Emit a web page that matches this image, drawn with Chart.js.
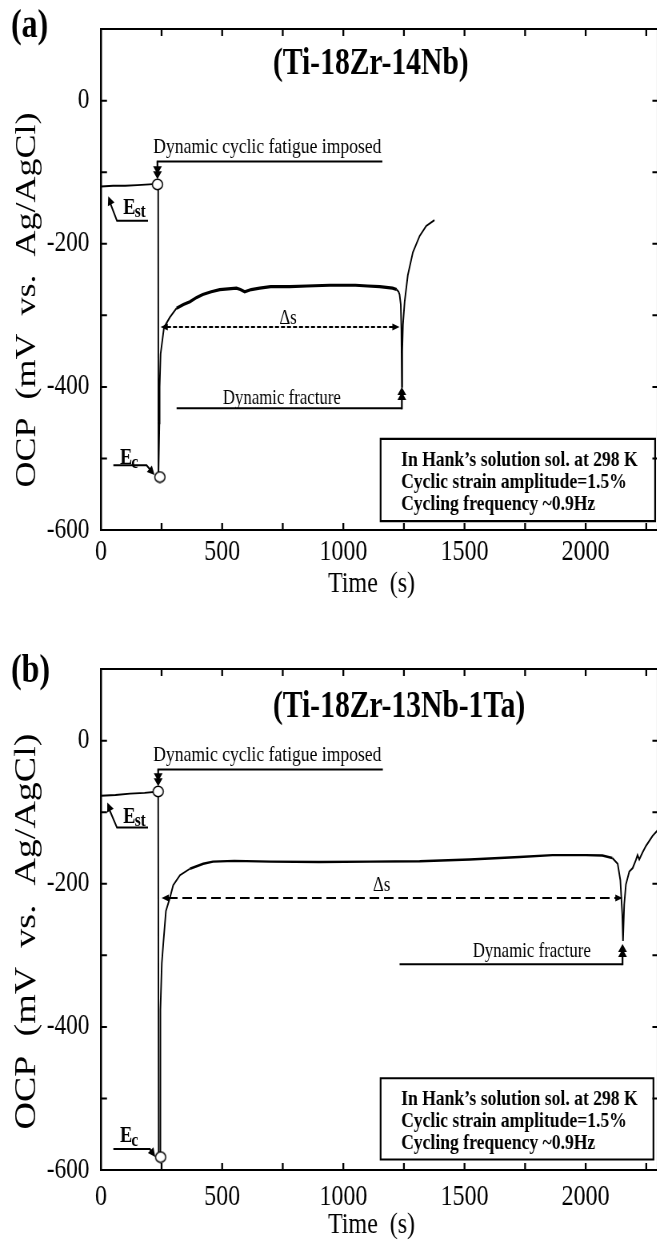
<!DOCTYPE html>
<html>
<head>
<meta charset="utf-8">
<script src="https://cdn.jsdelivr.net/npm/chart.js@4.4.1/dist/chart.umd.min.js"></script>
<style>
html,body{margin:0;padding:0;background:#fff;}
body{width:657px;height:1241px;overflow:hidden;position:relative;}
.panel{position:absolute;left:0;width:830px;height:640px;transform:scaleX(0.8);transform-origin:0 0;}
#pa{top:0;}
#pb{top:640px;}
canvas{display:block;}
</style>
</head>
<body>
<div class="panel" id="pa"><canvas id="ca" width="830" height="640"></canvas></div>
<div class="panel" id="pb"><canvas id="cb" width="830" height="640"></canvas></div>
<script>
// ---------- data (time in s, OCP in mV vs Ag/AgCl) ----------
const timeA = [0,50,100,150,200,236,237,240,241,242,246,260,284,312,340,367,395,420,455,490,525,559,575,593,620,655,700,779,850,944,1000,1050,1100,1150,1203,1220,1228,1232,1237,1239.5,1241.5,1243,1246,1253,1266,1287,1315,1342,1376];
const ocpA  = [-120,-119,-119,-118,-117,-116,-526,-526,-451,-400,-354,-317,-303,-290,-285,-281,-275,-271,-267,-264,-263,-262,-264,-267,-264,-262,-260,-260,-259,-258,-258,-258,-259,-260,-262,-264,-267,-271,-285,-320,-400,-350,-313,-281,-244,-212,-189,-175,-167];
const circleTimeA = [233, 243];
const circleOcpA  = [-117, -526];

const timeB = [0,60,120,180,236,238,244,244.5,246,251,257,268,284,298,326,367,422,462,550,700,900,1110,1315,1521,1727,1863,2000,2069,2110,2132,2143,2151,2154,2159,2166,2173,2180,2194,2207,2214,2221,2235,2249,2276,2300];
const ocpB  = [-77,-76,-74,-73,-71,-582,-582,-513,-376,-311,-284,-238,-220,-202,-188,-179,-172,-169,-168,-169,-169.5,-169,-168.5,-166,-162.5,-160,-160,-160.5,-164,-172,-195,-243,-280,-229,-201,-192,-183,-178,-167,-160,-166,-156,-147,-133,-124];
const circleTimeB = [236, 246];
const circleOcpB  = [-71, -582];

const xTickValues = [0,250,500,750,1000,1250,1500,1750,2000,2250];
const yTickValues = [-600,-500,-400,-300,-200,-100,0,100];
const xLabelStep = 500;
const yLabelStep = 200;
const xMin = 0, xMax = 2300, yMin = -600, yMax = 100;

const yTitle = 'OCP  (mV  vs.  Ag/AgCl)';
const xTitle = 'Time  (s)';
const boxLines = ['In Hank\u2019s solution sol. at 298 K', 'Cyclic strain amplitude=1.5%', 'Cycling frequency ~0.9Hz'];
const fatigueText = 'Dynamic cyclic fatigue imposed';
const fractureText = 'Dynamic fracture';
const deltaText = '\u0394s';

// ---------- panel settings ----------
const SERIF = '"Liberation Serif", "Times New Roman", serif';

const panelA = {
  time: timeA, ocp: ocpA, circT: circleTimeA, circV: circleOcpA,
  lw: 1.9, plateauLw: 3.2, plateau: [300, 1226],
  xTickPad: 7.5,
  panelLabel: '(a)', labelX: 13.75, labelY: 37, labelSize: 40,
  alloy: '(Ti-18Zr-14Nb)', alloyX: 341.25, alloyY: 73.5,
  yTitleX: 43.75, yTitleY: 300, yTitleSize: 36,
  xTitleX: 464.4, xTitleY: 591.7,
  fatigue: {t0: 233, t1: 1161, v: -85, tipV: -110, textT: 215.5, gap: 8.5},
  fracture: {t0: 312, t1: 1241.5, v: -430, tipV: -400, textT: 502.7, gap: 4},
  delta: {t0: 246, t1: 1232, v: -316.4, labelT: 772, labelV: -304.8, dash: [5, 2.5]},
  est: {t0: 66, t1: 194, v: -168, tipT: 30, tipV: -133.5, textT: 92, textV: -158.3},
  ec: {t0: 51, t1: 188, v: -509.5, tipT: 221, tipV: -523, textT: 78, textV: -508.2},
  box: {t0: 1153.8, t1: 2286.5, vTop: -472.7, vBot: -587.6, textT: 1238.6, base: [27.3, 49.5, 71.5]}
};
const panelB = {
  time: timeB, ocp: ocpB, circT: circleTimeB, circV: circleOcpB,
  lw: 1.9, plateauLw: 2.4, plateau: [330, 2125],
  xTickPad: 12.5,
  panelLabel: '(b)', labelX: 13.75, labelY: 42, labelSize: 40,
  alloy: '(Ti-18Zr-13Nb-1Ta)', alloyX: 341.25, alloyY: 76.5,
  yTitleX: 43.75, yTitleY: 291.5, yTitleSize: 38,
  xTitleX: 464.4, xTitleY: 593.3,
  fatigue: {t0: 236, t1: 1163, v: -40.4, tipV: -63.8, textT: 215.5, gap: 9},
  fracture: {t0: 1232, t1: 2152, v: -312.4, tipV: -284, textT: 1534, gap: 7},
  delta: {t0: 250, t1: 2152, v: -219.8, labelT: 1158, labelV: -202.3, dash: [12, 6]},
  est: {t0: 66, t1: 194, v: -121.5, tipT: 26, tipV: -86.5, textT: 92, textV: -114.7},
  ec: {t0: 51, t1: 202, v: -570.8, tipT: 224, tipV: -582, textT: 78, textV: -561},
  box: {t0: 1153.8, t1: 2279.6, vTop: -471.8, vBot: -585.3, textT: 1238.6, base: [26.8, 48.8, 71]}
};

// open circle marker (pre-stretched so it looks round after the 0.8 horizontal squeeze)
const circleImg = document.createElement('canvas');
circleImg.width = 16; circleImg.height = 13;
(function(){
  const c = circleImg.getContext('2d');
  c.beginPath();
  c.ellipse(8, 6.5, 6.4, 5.2, 0, 0, Math.PI * 2);
  c.fillStyle = '#fff'; c.fill();
  c.lineWidth = 1.5; c.strokeStyle = '#000'; c.stroke();
})();

function headAt(ctx, tx, ty, fx, fy, len, half) {
  const a = Math.atan2(ty - fy, tx - fx);
  const bx = tx - len * Math.cos(a), by = ty - len * Math.sin(a);
  ctx.beginPath();
  ctx.moveTo(tx, ty);
  ctx.lineTo(bx + half * Math.sin(a), by - half * Math.cos(a));
  ctx.lineTo(bx - half * Math.sin(a), by + half * Math.cos(a));
  ctx.closePath();
  ctx.fill();
}

function drawE(ctx, sub, x, y) {
  ctx.textAlign = 'left';
  ctx.textBaseline = 'alphabetic';
  ctx.font = 'bold 23px ' + SERIF;
  ctx.fillText('E', x, y);
  const w = ctx.measureText('E').width;
  ctx.font = 'bold 19px ' + SERIF;
  ctx.fillText(sub, x + w - 1, y + 3.5);
}

function decorate(chart, P) {
  const ctx = chart.ctx, ca = chart.chartArea;
  const xs = chart.scales.x, ys = chart.scales.y;
  const X = v => xs.getPixelForValue(v), Y = v => ys.getPixelForValue(v);
  ctx.save();
  ctx.strokeStyle = '#000';
  ctx.fillStyle = '#000';
  ctx.lineCap = 'butt';

  // frame
  ctx.lineWidth = 2;
  ctx.beginPath();
  ctx.moveTo(ca.left - 1.25, ca.top); ctx.lineTo(ca.right + 1.25, ca.top);
  ctx.moveTo(ca.left - 1.25, ca.bottom); ctx.lineTo(ca.right + 1.25, ca.bottom);
  ctx.stroke();
  ctx.lineWidth = 2.5;
  ctx.beginPath();
  ctx.moveTo(ca.left, ca.top); ctx.lineTo(ca.left, ca.bottom);
  ctx.moveTo(ca.right, ca.top); ctx.lineTo(ca.right, ca.bottom);
  ctx.stroke();

  // inward tick marks
  ctx.lineWidth = 2.3;
  xTickValues.forEach(v => {
    if (v <= xMin || v >= xMax) return;
    const px = X(v);
    ctx.beginPath();
    ctx.moveTo(px, ca.bottom); ctx.lineTo(px, ca.bottom - 7);
    ctx.moveTo(px, ca.top); ctx.lineTo(px, ca.top + 7);
    ctx.stroke();
  });
  ctx.lineWidth = 2;
  yTickValues.forEach(v => {
    if (v <= yMin || v >= yMax) return;
    const py = Y(v);
    ctx.beginPath();
    ctx.moveTo(ca.left, py); ctx.lineTo(ca.left + 7.5, py);
    ctx.moveTo(ca.right, py); ctx.lineTo(ca.right - 7.5, py);
    ctx.stroke();
  });

  // panel label & alloy title
  ctx.textBaseline = 'alphabetic';
  ctx.textAlign = 'left';
  ctx.font = 'bold ' + P.labelSize + 'px ' + SERIF;
  ctx.fillText(P.panelLabel, P.labelX, P.labelY);
  ctx.font = 'bold 37px ' + SERIF;
  ctx.fillText(P.alloy, P.alloyX, P.alloyY);

  // axis titles
  ctx.save();
  ctx.translate(P.yTitleX, P.yTitleY);
  ctx.rotate(-Math.PI / 2);
  ctx.textAlign = 'center';
  ctx.font = P.yTitleSize + 'px ' + SERIF;
  ctx.fillText(yTitle, 0, 0);
  ctx.restore();
  ctx.textAlign = 'center';
  ctx.font = '30px ' + SERIF;
  ctx.fillText(xTitle, P.xTitleX, P.xTitleY);

  // "Dynamic cyclic fatigue imposed"
  const F = P.fatigue;
  const fy = Y(F.v), fx0 = X(F.t0), fx1 = X(F.t1), ftip = Y(F.tipV);
  ctx.lineWidth = 2;
  ctx.beginPath(); ctx.moveTo(fx0 - 1, fy); ctx.lineTo(fx1, fy); ctx.stroke();
  ctx.lineWidth = 2.2;
  ctx.beginPath(); ctx.moveTo(fx0, fy); ctx.lineTo(fx0, ftip - 6); ctx.stroke();
  headAt(ctx, fx0, ftip, fx0, fy, 8, 5.5);
  headAt(ctx, fx0, ftip - 5, fx0, fy, 8, 5.5);
  ctx.textAlign = 'left';
  ctx.font = '22px ' + SERIF;
  ctx.fillText(fatigueText, X(F.textT), fy - F.gap);

  // "Dynamic fracture"
  const D = P.fracture;
  const dy = Y(D.v), dx0 = X(D.t0), dx1 = X(D.t1), dtip = Y(D.tipV);
  ctx.lineWidth = 2;
  ctx.beginPath(); ctx.moveTo(dx0, dy); ctx.lineTo(dx1, dy); ctx.stroke();
  ctx.lineWidth = 2.2;
  ctx.beginPath(); ctx.moveTo(dx1, dy + 1); ctx.lineTo(dx1, dtip + 6); ctx.stroke();
  headAt(ctx, dx1, dtip, dx1, dy, 8, 5.5);
  headAt(ctx, dx1, dtip + 5, dx1, dy, 8, 5.5);
  ctx.font = '21px ' + SERIF;
  ctx.fillText(fractureText, X(D.textT), dy - D.gap);

  // delta-s double arrow
  const S = P.delta;
  const sy = Y(S.v), sx0 = X(S.t0), sx1 = X(S.t1);
  ctx.lineWidth = 2;
  ctx.setLineDash(S.dash);
  ctx.beginPath(); ctx.moveTo(sx0 + 8, sy); ctx.lineTo(sx1 - 8, sy); ctx.stroke();
  ctx.setLineDash([]);
  headAt(ctx, sx0, sy, sx1, sy, 9, 3.5);
  headAt(ctx, sx1, sy, sx0, sy, 9, 3.5);
  ctx.textAlign = 'center';
  ctx.textBaseline = 'middle';
  ctx.font = '21px ' + SERIF;
  ctx.fillText(deltaText, X(S.labelT), Y(S.labelV));
  ctx.textBaseline = 'alphabetic';

  // E_st
  const Es = P.est;
  ctx.lineWidth = 2;
  ctx.beginPath();
  ctx.moveTo(X(Es.t1), Y(Es.v)); ctx.lineTo(X(Es.t0), Y(Es.v));
  ctx.lineTo(X(Es.tipT) + 2, Y(Es.tipV) + 6);
  ctx.stroke();
  headAt(ctx, X(Es.tipT), Y(Es.tipV), X(Es.t0), Y(Es.v), 9, 4.5);
  drawE(ctx, 'st', X(Es.textT), Y(Es.textV));

  // E_c
  const Ec = P.ec;
  ctx.lineWidth = 2;
  ctx.beginPath();
  ctx.moveTo(X(Ec.t0), Y(Ec.v)); ctx.lineTo(X(Ec.t1), Y(Ec.v));
  ctx.lineTo(X(Ec.tipT) - 4, Y(Ec.tipV) - 4);
  ctx.stroke();
  headAt(ctx, X(Ec.tipT), Y(Ec.tipV), X(Ec.t1), Y(Ec.v), 9, 4.5);
  drawE(ctx, 'c', X(Ec.textT), Y(Ec.textV));

  // conditions box
  const B = P.box;
  const bx0 = X(B.t0), bx1 = X(B.t1), by0 = Y(B.vTop), by1 = Y(B.vBot);
  ctx.lineWidth = 2.2;
  ctx.beginPath();
  ctx.moveTo(bx0, by0); ctx.lineTo(bx1, by0); ctx.lineTo(bx1, by1); ctx.lineTo(bx0, by1); ctx.closePath();
  ctx.stroke();
  ctx.textAlign = 'left';
  ctx.font = 'bold 22px ' + SERIF;
  boxLines.forEach((s, i) => ctx.fillText(s, X(B.textT), by0 + B.base[i]));

  ctx.restore();
}

function buildPanel(id, P) {
  const el = document.getElementById(id);
  return new Chart(el, {
    type: 'line',
    data: {
      datasets: [
        {
          data: P.circT.map((t, i) => ({x: t, y: P.circV[i]})),
          showLine: false,
          pointStyle: circleImg,
          pointRadius: 6,
          order: 0
        },
        {
          data: P.time.map((t, i) => ({x: t, y: P.ocp[i]})),
          borderColor: '#000',
          borderWidth: P.lw,
          pointRadius: 0,
          tension: 0,
          fill: false,
          order: 1,
          segment: {
            borderWidth: c => (c.p0.parsed.x >= P.plateau[0] && c.p1.parsed.x <= P.plateau[1]) ? P.plateauLw : P.lw
          }
        }
      ]
    },
    options: {
      responsive: false,
      animation: false,
      devicePixelRatio: 1,
      events: [],
      layout: {padding: {top: 20.7, right: 6.1, bottom: 0, left: 0}},
      plugins: {legend: {display: false}, tooltip: {enabled: false}, title: {display: false}},
      scales: {
        x: {
          type: 'linear', min: xMin, max: xMax,
          afterBuildTicks: s => { s.ticks = xTickValues.map(v => ({value: v})); },
          afterFit: s => { s.height = 110; },
          grid: {display: false, drawTicks: false},
          border: {display: false},
          ticks: {
            padding: P.xTickPad, color: '#000', autoSkip: false, maxRotation: 0, minRotation: 0,
            font: {family: SERIF, size: 30, lineHeight: 1},
            callback: v => (v % xLabelStep === 0 ? String(v) : '')
          }
        },
        y: {
          type: 'linear', min: yMin, max: yMax,
          afterBuildTicks: s => { s.ticks = yTickValues.map(v => ({value: v})); },
          afterFit: s => { s.width = 126.25; },
          grid: {display: false, drawTicks: false},
          border: {display: false},
          ticks: {
            padding: 14.6, color: '#000', autoSkip: false,
            font: {family: SERIF, size: 29, lineHeight: 1},
            callback: v => (v % yLabelStep === 0 ? String(v) : '')
          }
        }
      }
    },
    plugins: [{id: 'decor', afterDraw: chart => decorate(chart, P)}]
  });
}

buildPanel('ca', panelA);
buildPanel('cb', panelB);
</script>
</body>
</html>
